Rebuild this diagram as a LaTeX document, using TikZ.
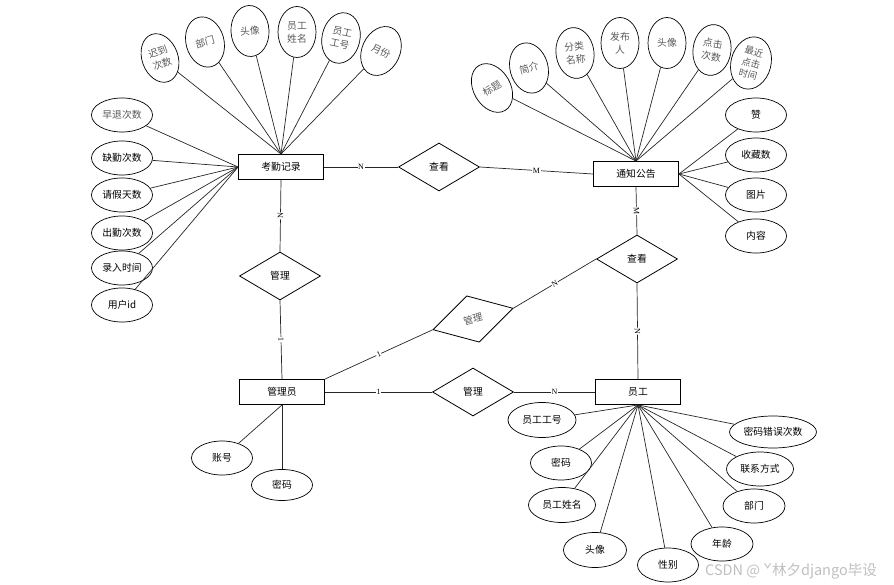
\documentclass[tikz,border=0pt]{standalone}
\usepackage{fontspec}
\setmainfont{Liberation Serif}
\newfontfamily\cjk{Noto Sans CJK SC}
\usetikzlibrary{shapes.geometric}
\begin{document}
\begin{tikzpicture}[x=1pt,y=-1pt,
  every node/.style={font=\cjk\fontsize{9.8}{13}\selectfont},
  lnk/.style={line width=0.7pt, draw=black!85},
  ent/.style={draw, line width=0.9pt, rectangle, minimum width=85, minimum height=25, inner sep=0},
  rel/.style={draw, line width=0.8pt, diamond, minimum width=81, minimum height=48, inner sep=0},
  attr/.style={draw, line width=0.7pt, ellipse, minimum width=61, minimum height=34, inner sep=0, align=center},
  vattr/.style={draw, line width=0.7pt, ellipse, minimum width=38, minimum height=51, inner sep=0, align=center, text=black!65},
  card/.style={font=\rmfamily\fontsize{8}{8}\selectfont, fill=white, inner sep=0.6pt},
]
\useasboundingbox (0,0) rectangle (894,585);

% entities
\node[ent] (kq) at (281,167) {考勤记录};
\node[ent] (tz) at (636,174) {通知公告};
\node[ent] (gly) at (282,392) {管理员};
\node[ent] (yg) at (638,392) {员工};

% relationships
\node[rel] (ck1) at (439,167) {查看};
\node[rel] (gl1) at (280,276) {管理};
\node[rel] (ck2) at (637,259) {查看};
\node[rel, rotate=15, minimum width=83, text=black!65] (gl2) at (473,319) {管理};
\node[rel] (gl3) at (473,392) {管理};

% relationship connectors
\draw[lnk] (kq.east) -- node[card]{N} (ck1.west);
\draw[lnk] (ck1.east) -- node[card]{M} (tz.west);
\draw[lnk] (kq.south) -- node[card, sloped]{N} (gl1.north);
\draw[lnk] (gl1.south) -- node[card, sloped]{1} (gly.north);
\draw[lnk] (gly.north east) -- node[card, sloped]{1} (gl2.west);
\draw[lnk] (gl2.east) -- node[card, sloped]{N} (ck2.west);
\draw[lnk] (tz.south) -- node[card, sloped]{M} (ck2.north);
\draw[lnk] (ck2.south) -- node[card, sloped]{N} (yg.north);
\draw[lnk] (gly.east) -- node[card]{1} (gl3.west);
\draw[lnk] (gl3.east) -- node[card]{N} (yg.west);

% 考勤记录 top attributes
\node[vattr, rotate=20, minimum width=36, minimum height=50] (k1) at (160,58) {迟到\\次数};
\node[vattr, rotate=15] (k2) at (205,42) {部门};
\node[vattr, rotate=3] (k3) at (250,31) {头像};
\node[vattr] (k4) at (297,32) {员工\\姓名};
\node[vattr, rotate=-12] (k5) at (341,38) {员工\\工号};
\node[vattr, rotate=-25] (k6) at (381,51) {月份};
\foreach \n in {k1,k2,k3,k4,k5,k6} \draw[lnk] (\n) -- (kq.north);

% 考勤记录 left attributes
\node[attr, text=black!65] (l1) at (122,115) {早退次数};
\node[attr] (l2) at (122,158) {缺勤次数};
\node[attr] (l3) at (122,195) {请假天数};
\node[attr] (l4) at (122,233) {出勤次数};
\node[attr] (l5) at (122,268) {录入时间};
\node[attr] (l6) at (122,305) {用户id};
\foreach \n in {l1,l2,l3,l4,l5,l6} \draw[lnk] (\n) -- (kq.west);

% 通知公告 top attributes
\node[vattr, rotate=30, minimum width=37, minimum height=52] (t1) at (492,88) {标题};
\node[vattr, rotate=15] (t2) at (529,68) {简介};
\node[vattr, rotate=8] (t3) at (575,53) {分类\\名称};
\node[vattr] (t4) at (620,43) {发布\\人};
\node[vattr] (t5) at (667,43) {头像};
\node[vattr, rotate=-8] (t6) at (712,50) {点击\\次数};
\node[vattr, rotate=-15, minimum width=40, minimum height=53, font=\cjk\fontsize{9.3}{11.8}\selectfont] (t7) at (751,63) {最近\\点击\\时间};
\foreach \n in {t1,t2,t3,t4,t5,t6,t7} \draw[lnk] (\n) -- (tz.north);

% 通知公告 right attributes
\node[attr] (r1) at (756,115) {赞};
\node[attr] (r2) at (756,155) {收藏数};
\node[attr] (r3) at (756,195) {图片};
\node[attr] (r4) at (756,236) {内容};
\foreach \n in {r1,r2,r3,r4} \draw[lnk] (\n) -- (tz.east);

% 管理员 attributes
\node[attr] (g1) at (222,458) {账号};
\node[attr, minimum height=31] (g2) at (282,485) {密码};
\draw[lnk] (g1) -- (gly.south);
\draw[lnk] (g2) -- (gly.south);

% 员工 attributes
\node[attr, minimum width=68, minimum height=35] (y1) at (542,420) {员工工号};
\node[attr] (y2) at (561,463) {密码};
\node[attr, minimum width=67, minimum height=35] (y3) at (562,505) {员工姓名};
\node[attr, minimum width=63, minimum height=35] (y4) at (595,550) {头像};
\node[attr] (y5) at (668,565) {性别};
\node[attr, minimum width=62] (y6) at (722,544) {年龄};
\node[attr, minimum width=62] (y7) at (754,506) {部门};
\node[attr, minimum width=67] (y8) at (760,469) {联系方式};
\node[attr, minimum width=87, minimum height=32] (y9) at (773,432) {密码错误次数};
\foreach \n in {y1,y2,y3,y4,y5,y6,y7,y8,y9} \draw[lnk] (\n) -- (yg.south);

% watermark
\node[font=\cjk\fontsize{14.5}{16}\selectfont, text=black!25, inner sep=0] (wm) at (791,571) {CSDN @ ˇ林夕django毕设};
\end{tikzpicture}
\end{document}
